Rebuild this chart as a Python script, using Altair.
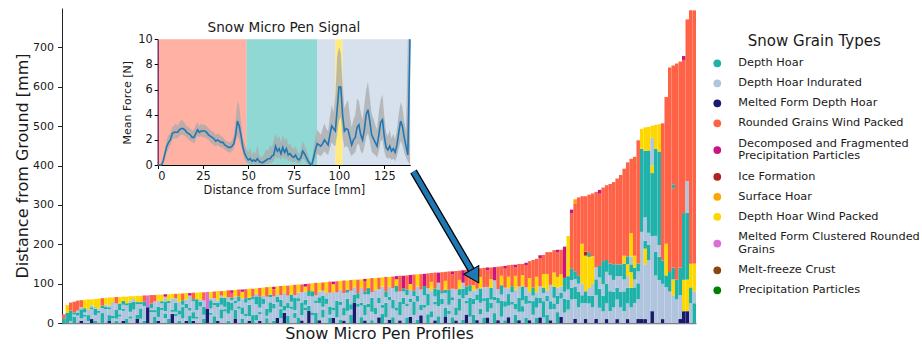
import re
import altair as alt
import pandas as pd

FONT = "DejaVu Sans"
INK = "#1a1a1a"

# ---- grain types: code, legend name, legend label (wrapped), colour ----
GRAIN_CODES = ["T", "L", "N", "R", "M", "I", "S", "Y", "O", "C", "P"]
GRAIN_NAMES = [
    "Depth Hoar",
    "Depth Hoar Indurated",
    "Melted Form Depth Hoar",
    "Rounded Grains Wind Packed",
    "Decomposed and Fragmented Precipitation Particles",
    "Ice Formation",
    "Surface Hoar",
    "Depth Hoar Wind Packed",
    "Melted Form Clustered Rounded Grains",
    "Melt-freeze Crust",
    "Precipitation Particles",
]
GRAIN_LABELS = [
    "Depth Hoar",
    "Depth Hoar Indurated",
    "Melted Form Depth Hoar",
    "Rounded Grains Wind Packed",
    "Decomposed and Fragmented\nPrecipitation Particles",
    "Ice Formation",
    "Surface Hoar",
    "Depth Hoar Wind Packed",
    "Melted Form Clustered Rounded\nGrains",
    "Melt-freeze Crust",
    "Precipitation Particles",
]
GRAIN_COLORS = ["#20b2aa", "#b0c4de", "#191970", "#ff6347", "#c71585", "#b22222",
                "#ffa500", "#ffd700", "#da70d6", "#8b4513", "#008000"]

# ---- snow micro pen profiles: total depth [mm] and layering (bottom -> top) ----
# each token is <grain code><relative thickness>
PROFILE_HEIGHTS = [
    22, 46, 52, 54, 57, 58, 59, 60, 60, 61, 62, 63,
    64, 65, 65, 66, 66, 67, 67, 68, 68, 69, 69, 70,
    70, 71, 71, 72, 72, 73, 73, 74, 74, 75, 75, 76,
    76, 77, 77, 78, 78, 79, 79, 80, 81, 81, 82, 83,
    83, 84, 85, 85, 86, 87, 87, 88, 89, 90, 91, 92,
    92, 93, 94, 95, 95, 96, 97, 98, 98, 99, 100, 101,
    102, 102, 103, 104, 105, 105, 106, 107, 108, 108, 109, 110,
    110, 111, 112, 113, 114, 114, 115, 116, 117, 117, 118, 119,
    120, 120, 121, 122, 123, 124, 124, 125, 126, 127, 128, 128,
    129, 130, 131, 131, 132, 133, 134, 135, 136, 137, 138, 139,
    140, 141, 141, 142, 143, 144, 145, 147, 148, 148, 150, 150,
    153, 157, 160, 163, 172, 173, 180, 180, 185, 186, 186, 194, 221,
    288, 314, 319, 322, 322, 326, 329, 333, 338, 344, 350, 353,
    358, 367, 376, 392, 408, 417, 422, 464, 493, 497, 498, 501,
    503, 505, 507, 574, 649, 654, 659, 664, 678, 771, 794, 794,
]
PROFILE_LAYERS = [
    # 0-11
    "T2R2", "T5Y4", "L1T5R4", "T3L1T1R5", "L3T1L1R4", "N1L1T4L1R3",
    "L3T1L1T2Y4", "L1T3L3Y5", "N2L5T1L1Y3", "T1L3T3L1Y4", "L5T1L1Y5", "T4L2T1R3",
    # 12-23
    "L6T1L1Y3", "N1T3L3T1L1Y4", "L2T1L6Y2", "T1L1T4L3R3", "L3T1L2T3Y3", "N1L5T1L2T2Y2",
    "T2L6T1Y3", "L2T1L2T4L1Y2", "L5T3L1Y1", "N2T2L5T1Y3", "L2T5L2T1Y3", "T1L7T2R3",
    # 24-35
    "N8O6", "L5T1L1T2R4", "T3L2T1L4R3", "N1L2T5L3Y3", "L6T1L2T1Y3", "L2T2L1T4L2M1",
    "T2L7T1Y3", "N4L1T1L5Y2", "L3T1L1T4L2R2", "T1L3T2L4Y4", "L2T5L1T2R3", "N1L6T2L2Y3",
    # 36-47
    "T3L2T1L5M1", "N1L1T3L5T1R3", "L2T1L3T5Y3", "L7T2L1Y3", "T2L2T4L3R4", "N7O8",
    "L4T1L2T4L1Y3", "T3L5T1L2R3", "N1L6T2L1Y4", "L2T4L2T3L1R2", "L5T1L1T4Y3", "T1L3T5L2R3",
    # 48-59
    "L5T3L1T1R2M1", "N2T4L3T1L2Y3", "L6T1L2T2R3", "T2L2T3L4Y3M1", "L3T1L5T2R4", "N1L2T5L2T1Y4",
    "T3L6T1R3", "L1T2L4T3L1Y2", "N1L3T1L2T5R4", "L7T2L1Y3", "T2L1T3L5R4", "L4T4L2T1Y3",
    # 60-71
    "T1L5T2L3R3M1", "N2L6T2L1Y3", "L2T4L1T3L2R4", "N4L1T2L5Y3", "T3L3T2L3R4", "L6T1L2T3Y4",
    "L2T2L1T5L1R4", "T2L6T1L2Y3", "N1L2T5L4R3", "L5T1L1T2L3Y2M1", "N5T2L4T2R3", "L3T1L6T2Y3",
    # 72-83
    "T4L4T1L2R5", "N1L6T2L2Y3", "L2T3L1T4L2R3", "L7T2L2Y4", "T2L1T3L5R4", "N2L3T1L6Y3M1",
    "L2T6L3R4", "T1L5T1L4Y3", "N1L2T3L6R5", "L4T4L2T1Y3", "T3L2T2L5R4", "N8T3L3Y3",
    # 84-95
    "L6T1L2T2R5", "T2L4T1L5Y3", "N1L2T4L4T1R4M1", "L5T1L3T2Y3", "T1L3T5L2R5", "L3T2L6Y4",
    "N2L5T2L3R4", "T3L2T1L6Y3", "L2T5L2T2R5", "N1L6T1L3Y3", "T2L3T3L4R4", "L4T1L5T2Y2M1",
    # 96-107
    "N1L2T5L4R6", "L6T2L2T1M4", "T2L4T1L3T2R5", "N2L5T1L3Y2M3", "L3T5L2T2R6", "T1L6T2L3Y4",
    "N3L2T2L6R6", "L5T1L3T3M4", "T3L3T4L2R5", "L2T2L7Y3R3", "N1L6T1L2T3R6", "T2L3T5L2M3",
    # 108-119
    "L7T2L2T1R7", "N2T3L5T1Y3R3", "L3T1L2T5R6", "T2L6T1L3R5M1", "N1L2T3L7R7", "L4T4L1T2Y3R3",
    "T1L7T3L2M4", "N3L4T1L2T3R6", "L2T6L2T2R5", "T3L4T2L3Y2R5M1", "N1L7T2L2R7", "L3T2L2T5Y4R3",
    # 120-131
    "T2L6T1L4R7", "N2L2T5L4R6M1", "L5T2L1T4Y3R4", "T3L4T1L5M4", "N1L6T2L3R8", "L2T5L2T3Y3R3",
    "T1L5T2L5R7M1", "N2L4T4L2Y4R4", "L6T1L3T2R7", "T3L2T2L5Y5R3M1", "N1L3T5L4R8", "L4T2L2T5Y4R4",
    # 132-144
    "T2L5T3L3R8M1", "N1L6T1L3Y5R6", "L3T5L2T3R10", "T2L4T4L2Y6R7", "N2L5T2L4R10M1",
    "L2T6L3T2Y5R7", "T3L5T2L2Y6R8", "N1L4T3L6R12", "L5T2L2T4Y5R8", "T4L3T3L3Y4R9M1",
    "N2L6T2L2Y4R8", "L3T4L2T4M9", "L4T3L3T4Y12",
    # 145-156
    "L6T3L2T3R14M1", "N1L5T3L2T2R17S1", "L4T4L2T2R20", "L5T2L3Y10R12", "N1L4T3Y9I1R14",
    "L5T2L2Y8T1R15", "L4T3L3Y7R16", "N1L6T4L3R19", "L4T5L3T3R19M1", "L3T4L3T6R19",
    "N1L4T5L3T3R19", "L3T5L4T3R20",
    # 157-168
    "L4T4L3T4R21", "N1L5T3L3T3R22", "L4T4L4T3R23", "L3T5L3T4Y2R22", "N1L4T4L3Y3T2R24",
    "L4T5Y4T2L2Y6R19", "L5T4L2T3Y3R25", "N1L5T4L3T2R31", "N1L22T21Y5", "N1L14Y4T2L6T17Y6",
    "L16T4L3T21Y6", "N3L19T16Y2L7Y3",
    # 169-180
    "L12T6L4T22Y6", "L11T6L3T24Y7", "N1L9T6R35", "L9T3Y8R37", "L8T5R52", "L7Y4T3R20T1R30",
    "L6T5R55", "N1L6T7R52", "N3Y8T17R39M1", "N3Y8T17L8R41", "L5T4Y6R64", "T5L3Y7R64",
]

# ---- inset: one Snow Micro Pen signal with its grain-type sections ----
SIGNAL_X = list(range(139)) + [139.2]
SIGNAL_MEAN = [
    0, 0, 0, 0.3, 0.9, 1.5, 1.8, 2.0, 2.5, 2.6,
    2.6, 2.6, 2.8, 2.9, 2.9, 2.8, 2.6, 2.5, 2.4, 2.2,
    2.2, 2.5, 2.8, 2.6, 2.7, 2.7, 2.7, 2.6, 2.4, 2.3,
    2.2, 2.1, 1.9, 2.0, 1.9, 1.8, 1.8, 1.6, 1.5, 1.4,
    1.4, 1.5, 1.7, 2.4, 3.5, 3.1, 2.3, 1.4, 0.9, 0.6,
    0.4, 0.5, 0.3, 0.4, 0.3, 0.5, 0.3, 0.2, 0.2, 0.3,
    0.4, 0.5, 0.5, 0.7, 0.8, 1.5, 1.1, 1.3, 0.9, 1.4,
    1.0, 1.3, 0.8, 0.9, 0.7, 0.6, 0.8, 0.5, 0.4, 0.6,
    1.1, 0.9, 0.6, 0.3, 0.1, 0.0, 0.6, 1.2, 1.7, 1.6,
    1.5, 1.7, 2.0, 1.8, 1.6, 2.4, 3.1, 2.9, 2.7, 4.4,
    6.2, 6.2, 4.0, 2.7, 2.9, 2.8, 2.2, 1.6, 2.0, 2.2,
    3.0, 3.2, 2.4, 2.0, 2.8, 4.0, 4.4, 3.5, 2.4, 2.1,
    1.8, 1.5, 2.4, 3.4, 3.6, 2.3, 1.4, 1.2, 1.5, 1.1,
    1.3, 1.0, 1.6, 2.6, 3.5, 3.1, 2.2, 1.5, 0.8, 10,
]
SIGNAL_LO = [
    0, 0, 0, 0, 0.5, 1.0, 1.3, 1.6, 2.0, 2.1,
    2.1, 2.1, 2.3, 2.4, 2.4, 2.3, 2.2, 2.0, 1.9, 1.8,
    1.7, 2.0, 2.3, 2.2, 2.3, 2.2, 2.2, 2.1, 2.0, 1.8,
    1.7, 1.6, 1.5, 1.6, 1.5, 1.4, 1.4, 1.2, 1.1, 1.0,
    1.0, 1.1, 1.3, 1.8, 2.3, 2.0, 1.5, 0.9, 0.4, 0.2,
    0.1, 0.1, 0.0, 0.1, 0.0, 0.1, 0.0, 0.0, 0.0, 0.0,
    0.1, 0.1, 0.1, 0.2, 0.3, 0.7, 0.5, 0.6, 0.4, 0.7,
    0.4, 0.6, 0.3, 0.4, 0.2, 0.2, 0.3, 0.1, 0.1, 0.2,
    0.5, 0.4, 0.2, 0.0, 0.0, 0.0, 0.1, 0.5, 0.9, 0.8,
    0.7, 0.9, 1.1, 0.9, 0.8, 1.3, 1.8, 1.6, 1.5, 2.4,
    3.5, 3.8, 2.2, 1.4, 1.5, 1.4, 1.0, 0.7, 0.9, 1.0,
    1.6, 1.7, 1.1, 0.9, 1.4, 2.2, 2.5, 1.9, 1.1, 0.9,
    0.8, 0.6, 1.1, 1.9, 2.0, 1.1, 0.6, 0.5, 0.6, 0.4,
    0.5, 0.3, 0.7, 1.3, 1.9, 1.6, 1.0, 0.6, 0.3, 0,
]
SIGNAL_HI = [
    0, 0, 0.1, 0.6, 1.3, 2.0, 2.4, 2.5, 3.0, 3.1,
    3.3, 3.1, 3.4, 3.6, 3.5, 3.3, 3.1, 3.0, 2.9, 2.7,
    2.8, 3.2, 3.4, 3.1, 3.3, 3.2, 3.2, 3.1, 2.9, 2.8,
    2.7, 2.6, 2.4, 2.5, 2.4, 2.3, 2.2, 2.0, 1.9, 1.8,
    1.8, 2.0, 2.3, 3.6, 5.1, 4.7, 3.4, 2.2, 1.6, 1.3,
    1.0, 1.4, 0.8, 1.1, 0.9, 1.6, 0.8, 0.6, 0.7, 1.0,
    1.3, 1.1, 1.6, 1.4, 2.0, 2.5, 2.1, 2.3, 1.8, 2.4,
    1.9, 2.2, 1.6, 1.7, 1.4, 1.3, 1.5, 1.1, 0.9, 1.2,
    1.9, 1.6, 1.2, 0.8, 0.4, 0.2, 1.4, 2.2, 2.8, 2.6,
    2.4, 2.9, 3.3, 2.9, 2.7, 3.8, 4.8, 4.2, 5.5, 8.6,
    9.4, 8.9, 6.4, 4.5, 4.9, 5.2, 3.9, 3.0, 3.6, 4.0,
    5.3, 5.1, 4.2, 3.6, 4.8, 6.0, 6.6, 5.4, 4.1, 3.7,
    3.2, 2.8, 4.3, 5.2, 5.6, 3.9, 2.6, 2.3, 2.8, 2.1,
    2.5, 2.0, 2.9, 4.1, 5.0, 4.6, 3.5, 2.7, 10, 10,
]
SECTION_START = [0, 0.8, 49, 88, 98, 102]
SECTION_END = [0.8, 49, 88, 98, 102, 139.3]
SECTION_GRAIN = ["M", "R", "T", "L", "Y", "L"]

# arrow from the inset down to the profile it shows (profile index, depth mm)
ARROW_TAIL = (100.35, 384.8)
ARROW_BASE = (117.19, 129.3)
ARROW_HEAD = (117.91, 118.3)

name_of = dict(zip(GRAIN_CODES, GRAIN_NAMES))
n_prof = len(PROFILE_HEIGHTS)

# ---- tidy tables ----
rows = []
for i, (h, spec) in enumerate(zip(PROFILE_HEIGHTS, PROFILE_LAYERS)):
    parts = [(c, int(w)) for c, w in re.findall(r"([A-Z])(\d+)", spec)]
    total = sum(w for _, w in parts)
    acc = 0
    for c, w in parts:
        y0 = h * acc / total
        acc += w
        rows.append({"x0": i, "x1": i + 1, "y0": y0, "y1": h * acc / total,
                     "grain": name_of[c]})
layers_df = pd.DataFrame(rows)

signal_df = pd.DataFrame({"d": SIGNAL_X, "f": SIGNAL_MEAN,
                          "lo": SIGNAL_LO, "hi": SIGNAL_HI})
sections_df = pd.DataFrame({"a": SECTION_START, "b": SECTION_END,
                            "grain": [name_of[c] for c in SECTION_GRAIN],
                            "f0": 0, "f1": 10})
shaft_df = pd.DataFrame({"x": [ARROW_TAIL[0], ARROW_BASE[0]],
                         "y": [ARROW_TAIL[1], ARROW_BASE[1]], "k": [0, 1]})
head_df = pd.DataFrame({"x": [ARROW_HEAD[0]], "y": [ARROW_HEAD[1]]})

# legend rows: a two-line label takes extra room; text is placed by its first line
ROW_STEP, EXTRA_LINE, LINE_H = 20.0, 13.5, 12.5
centers, text_y, top = [], [], 55.3
for lab in GRAIN_LABELS:
    n_extra = lab.count("\n")
    extra = EXTRA_LINE * n_extra
    c = top + extra / 2
    centers.append(c)
    text_y.append(c - LINE_H * n_extra / 2)
    top += ROW_STEP + extra
legend_df = pd.DataFrame({"grain": GRAIN_NAMES, "label": GRAIN_LABELS,
                          "cy": centers, "ty": text_y, "sx": 0, "tx": 21})
legend_title_df = pd.DataFrame({"tx": [97], "cy": [32.7], "t": ["Snow Grain Types"]})

color_scale = alt.Scale(domain=GRAIN_NAMES, range=GRAIN_COLORS)

# ---- main panel ----
x_main = alt.Scale(domain=[0, n_prof], nice=False, zero=False)
y_main = alt.Scale(domain=[0, 800], nice=False)
x_main_axis = alt.Axis(title="Snow Micro Pen Profiles", labels=False, ticks=False,
                       grid=False, domainColor="#808080", domainWidth=1.6,
                       titleFontSize=16, titlePadding=2, titleFontWeight="normal",
                       titleColor=INK, titleFont=FONT)
y_main_axis = alt.Axis(title="Distance from Ground [mm]", values=list(range(0, 800, 100)),
                       grid=False, tickSize=4.5, tickColor="#222", domainColor="#222",
                       labelFontSize=11, labelColor=INK, labelPadding=4, labelFont=FONT,
                       titleFontSize=16, titlePadding=2, titleFontWeight="normal",
                       titleColor=INK, titleFont=FONT)

bars = alt.Chart(layers_df).mark_rect(strokeWidth=0).encode(
    x=alt.X("x0:Q", scale=x_main, axis=x_main_axis),
    x2="x1:Q",
    y=alt.Y("y0:Q", scale=y_main, axis=y_main_axis),
    y2="y1:Q",
    color=alt.Color("grain:N", scale=color_scale, legend=None),
)
shaft_edge = alt.Chart(shaft_df).mark_line(color="black", strokeWidth=7.5, strokeCap="butt").encode(
    x=alt.X("x:Q", scale=x_main, axis=x_main_axis),
    y=alt.Y("y:Q", scale=y_main, axis=y_main_axis),
    order="k:Q",
)
shaft = alt.Chart(shaft_df).mark_line(color="#1f77b4", strokeWidth=5, strokeCap="butt").encode(
    x=alt.X("x:Q", scale=x_main, axis=x_main_axis),
    y=alt.Y("y:Q", scale=y_main, axis=y_main_axis),
    order="k:Q",
)
head = alt.Chart(head_df).mark_point(shape="triangle-down", filled=True, color="#1f77b4",
                                     stroke="black", strokeWidth=1, size=300, angle=330,
                                     opacity=1).encode(
    x=alt.X("x:Q", scale=x_main, axis=x_main_axis),
    y=alt.Y("y:Q", scale=y_main, axis=y_main_axis),
)
main = alt.layer(bars, shaft_edge, shaft, head)

# ---- inset panel (drawn in its own scales inside the main plot area) ----
x_in = alt.Scale(domain=[0, 139.3], range=[95.7, 348.2], nice=False, zero=False)
y_in = alt.Scale(domain=[0, 10], range=[157, 31.3], nice=False, zero=False)
x_in_axis = alt.Axis(orient="bottom", offset=-158, values=[0, 25, 50, 75, 100, 125],
                     title="Distance from Surface [mm]", grid=False, tickSize=3.5,
                     tickColor="black", domainColor="black", labelFontSize=11.4,
                     labelColor=INK, labelPadding=2, labelFont=FONT, titleFontSize=11.4,
                     titleFontWeight="normal", titlePadding=3, titleColor=INK, titleFont=FONT)
y_in_axis = alt.Axis(orient="left", offset=-95.7, values=[0, 2, 4, 6, 8, 10],
                     title="Mean Force [N]", grid=False, tickSize=3.5, tickColor="black",
                     domainColor="black", labelFontSize=11.4, labelColor=INK,
                     labelPadding=2, labelFont=FONT, titleFontSize=11,
                     titleFontWeight="normal", titlePadding=5, titleColor=INK, titleFont=FONT)

sections = alt.Chart(sections_df).mark_rect(opacity=0.5, strokeWidth=0).encode(
    x=alt.X("a:Q", scale=x_in, axis=x_in_axis),
    x2="b:Q",
    y=alt.Y("f0:Q", scale=y_in, axis=y_in_axis),
    y2="f1:Q",
    color=alt.Color("grain:N", scale=color_scale, legend=None),
)
band = alt.Chart(signal_df).mark_area(color="#a9a9a9", opacity=0.75).encode(
    x=alt.X("d:Q", scale=x_in, axis=x_in_axis),
    y=alt.Y("lo:Q", scale=y_in, axis=y_in_axis),
    y2="hi:Q",
)
line = alt.Chart(signal_df).mark_line(color="#1f77b4", strokeWidth=1.6).encode(
    x=alt.X("d:Q", scale=x_in, axis=x_in_axis),
    y=alt.Y("f:Q", scale=y_in, axis=y_in_axis),
)
inset_title = alt.Chart(pd.DataFrame({"d": [69.65], "f": [10], "t": ["Snow Micro Pen Signal"]})).mark_text(
    fontSize=13.6, font=FONT, color=INK, dy=-11, baseline="middle", align="center").encode(
    x=alt.X("d:Q", scale=x_in, axis=x_in_axis),
    y=alt.Y("f:Q", scale=y_in, axis=y_in_axis),
    text="t:N",
)
inset = alt.layer(sections, band, line, inset_title)

# ---- grain-type legend ----
x_leg = alt.Scale(domain=[0, 100], range=[655.3, 755.3], nice=False, zero=False)
y_leg = alt.Scale(domain=[0, 100], range=[0, 100], nice=False, zero=False)
dots = alt.Chart(legend_df).mark_circle(size=60, opacity=1).encode(
    x=alt.X("sx:Q", scale=x_leg, axis=None),
    y=alt.Y("cy:Q", scale=y_leg, axis=None),
    color=alt.Color("grain:N", scale=color_scale, legend=None),
)
labels = alt.Chart(legend_df).mark_text(align="left", baseline="middle", fontSize=11.3,
                                        font=FONT, color=INK, lineBreak="\n",
                                        lineHeight=LINE_H).encode(
    x=alt.X("tx:Q", scale=x_leg, axis=None),
    y=alt.Y("ty:Q", scale=y_leg, axis=None),
    text="label:N",
)
leg_title = alt.Chart(legend_title_df).mark_text(align="center", baseline="middle",
                                                 fontSize=15, font=FONT, color=INK).encode(
    x=alt.X("tx:Q", scale=x_leg, axis=None),
    y=alt.Y("cy:Q", scale=y_leg, axis=None),
    text="t:N",
)
legend = alt.layer(dots, labels, leg_title)

chart = (
    alt.layer(main, inset, legend)
    .resolve_scale(x="independent", y="independent")
    .properties(width=634, height=315,
                autosize=alt.AutoSizeParams(type="none"),
                padding={"left": 62, "top": 8, "right": 226, "bottom": 21})
    .configure(font=FONT)
    .configure_view(stroke=None)
)

chart.save("out.html", embed_options={"renderer": "svg", "actions": False})
